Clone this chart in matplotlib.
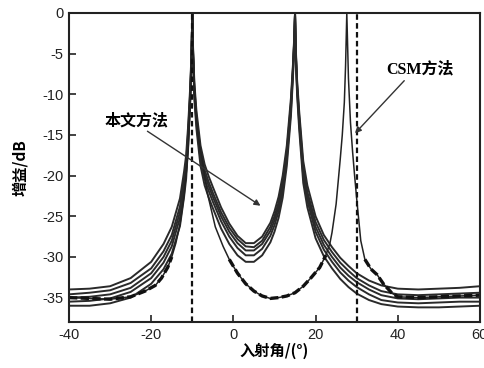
import matplotlib
matplotlib.use("Agg")
import matplotlib.pyplot as plt
import numpy as np

plt.rcParams['font.family'] = ['Liberation Sans', 'Noto Sans CJK SC', 'DejaVu Sans']
plt.rcParams['axes.unicode_minus'] = False

# ---- data ----
ours_x = [-40, -35, -30, -25, -20, -17, -15, -13, -12, -11.5, -11, -10.5, -10.2, -10, -9.8,
          -9.5, -9, -8, -7, -6, -5, -3, -1, 1, 3, 5, 7, 9, 10, 11, 12, 13, 14, 14.5, 14.8,
          15, 15.2, 15.5, 16, 17, 18, 20, 22, 24, 26, 28, 30, 33, 36, 40, 45, 50, 55, 60]

ours_1 = [-34.0, -33.9, -33.6, -32.6, -30.6, -28.4, -26.3, -22.8, -19.5, -17.5, -13.8, -9.0, -5.0, 0, -4.5,
          -8.5, -12.0, -16.3, -18.6, -20.1, -21.4, -23.9, -25.9, -27.4, -28.3, -28.3, -27.5, -25.8, -24.4, -22.6, -20.0, -16.3, -10.5, -6.3, -3.0,
          0, -4.5, -8.2, -12.0, -18.2, -21.2, -25.0, -27.3, -28.8, -30.1, -31.1, -32.0, -32.9, -33.5, -33.9, -34.0, -33.9, -33.8, -33.6]
ours_2 = [-34.6, -34.4, -34.1, -33.2, -31.4, -29.3, -27.3, -23.8, -20.4, -18.4, -14.5, -9.6, -5.3, 0, -4.8,
          -9.1, -12.6, -17.0, -19.3, -20.8, -22.1, -24.5, -26.4, -27.8, -28.7, -28.8, -28.0, -26.3, -25.0, -23.3, -20.8, -17.0, -11.1, -6.7, -3.3,
          0, -4.8, -8.7, -12.6, -19.0, -22.0, -25.7, -27.9, -29.4, -30.7, -31.7, -32.6, -33.5, -34.2, -34.6, -34.7, -34.6, -34.5, -34.4]
ours_3 = [-35.0, -34.9, -34.6, -33.8, -32.0, -30.0, -28.0, -24.5, -21.0, -19.0, -15.0, -10.0, -5.5, 0, -5.0,
          -9.5, -13.0, -17.5, -19.8, -21.3, -22.6, -25.0, -26.9, -28.3, -29.2, -29.2, -28.4, -26.8, -25.5, -23.8, -21.3, -17.5, -11.5, -7.0, -3.5,
          0, -5.0, -9.0, -13.0, -19.5, -22.5, -26.3, -28.5, -30.0, -31.3, -32.3, -33.1, -34.0, -34.7, -35.1, -35.2, -35.1, -35.0, -35.0]
ours_4 = [-35.5, -35.4, -35.1, -34.3, -32.6, -30.7, -28.7, -25.2, -21.7, -19.6, -15.5, -10.4, -5.8, 0, -5.3,
          -10.0, -13.5, -18.0, -20.4, -21.9, -23.2, -25.6, -27.5, -28.9, -29.8, -29.8, -29.0, -27.4, -26.1, -24.4, -21.9, -18.0, -12.0, -7.4, -3.8,
          0, -5.3, -9.4, -13.5, -20.1, -23.1, -26.9, -29.1, -30.6, -31.9, -32.9, -33.7, -34.6, -35.3, -35.6, -35.7, -35.6, -35.5, -35.5]
ours_5 = [-36.0, -36.0, -35.7, -35.0, -33.3, -31.5, -29.6, -26.2, -22.6, -20.4, -16.2, -11.0, -6.2, 0, -5.7,
          -10.6, -14.2, -18.8, -21.2, -22.7, -24.0, -26.5, -28.4, -29.8, -30.6, -30.6, -29.8, -28.2, -26.9, -25.2, -22.7, -18.8, -12.7, -7.9, -4.1,
          0, -5.7, -10.0, -14.2, -20.9, -23.9, -27.7, -29.9, -31.4, -32.7, -33.7, -34.5, -35.3, -35.8, -36.1, -36.2, -36.2, -36.1, -36.0]

csm_x = [-40, -35, -30, -25, -21.5, -19, -17.5, -16, -15, -14, -13, -12, -11, -10.5, -10.2, -10,
         -9.8, -9.5, -9, -8.5, -7.6, -6.4, -4.4, -2.5, -1, 1, 3, 5, 7, 9, 11, 13, 15, 17, 19, 21,
         22.5, 23.5, 24, 25, 26, 26.5, 27, 27.3, 27.6, 28, 28.5, 29, 29.5, 30, 31, 32, 33.5, 35,
         36.5, 38.5, 40, 45, 50, 55, 60]
csm_y = [-35.0, -35.1, -35.2, -34.9, -34.2, -33.5, -32.6, -31.3, -30.0, -28.3, -26.0, -22.5, -17.0, -11.0, -5.5, 0,
         -5.0, -9.5, -13.0, -15.5, -18.0, -22.0, -26.3, -28.7, -30.3, -32.0, -33.3, -34.2, -34.8, -35.1, -35.0, -34.8, -34.4, -33.6, -32.5, -31.3,
         -29.8, -28.3, -27.0, -23.5, -18.0, -15.0, -11.0, -6.5, 0, -8.0, -13.5, -17.0, -20.0, -22.8, -28.0, -30.3, -31.5, -32.2,
         -33.3, -34.4, -34.9, -35.0, -34.9, -34.8, -34.7]

true_angles = [-10, 30]
x_ticks = [-40, -20, 0, 20, 40, 60]
y_ticks = [0, -5, -10, -15, -20, -25, -30, -35]

fig = plt.figure(figsize=(4.84, 3.68), dpi=100)
ax = fig.add_axes([0.1426, 0.125, 0.849, 0.8397])

for ys in [ours_1, ours_2, ours_3, ours_4, ours_5]:
    ax.plot(ours_x, ys, color='#2a2a2a', lw=1.4)

# CSM: thin solid curve, with the heavy dashed texture along its low parts
ax.plot(csm_x, csm_y, color='#222222', lw=1.1)
csm_arr = np.array(csm_y)
csm_low = np.ma.masked_where(csm_arr > -29.5, csm_arr)
ax.plot(csm_x, csm_low, color='#111111', lw=2.4, ls=(0, (2.5, 1.0)))

for a in true_angles:
    ax.axvline(a, color='#111111', lw=1.6, ls=(0, (2.5, 1.5)))

ax.set_xlim(-40, 60)
ax.set_ylim(-38, 0)
ax.set_xticks(x_ticks)
ax.set_yticks(y_ticks)
ax.tick_params(direction='in', length=5, width=1.2, labelsize=10.5, pad=4, colors='#222222')
for s in ax.spines.values():
    s.set_linewidth(1.5)
    s.set_color('#222222')

ax.set_xlabel('入射角/(°)', fontsize=11, fontweight='bold',
              family=['Noto Sans CJK SC', 'DejaVu Sans'], labelpad=1)
ax.set_ylabel('增益/dB', fontsize=11, fontweight='bold',
              family=['Noto Sans CJK SC', 'DejaVu Sans'], labelpad=10)

ax.annotate('本文方法', xy=(6.6, -23.7), xytext=(-23.5, -14.2),
            fontsize=11.5, fontweight='bold', ha='center', va='bottom',
            family=['Noto Sans CJK SC', 'DejaVu Sans'],
            arrowprops=dict(arrowstyle='-|>', color='#333333', lw=1.0,
                            mutation_scale=9, shrinkA=0, shrinkB=0,
                            relpos=(0.6, 0.0)))
ax.annotate('CSM方法', xy=(29.6, -14.8), xytext=(45.5, -7.0),
            fontsize=11.5, fontweight='bold', ha='center', va='center',
            family=['Liberation Serif', 'Noto Sans CJK SC'],
            arrowprops=dict(arrowstyle='-|>', color='#333333', lw=1.0,
                            mutation_scale=9, shrinkA=0, shrinkB=0,
                            relpos=(0.3, 0.0)))

fig.savefig('out.png', dpi=100)
